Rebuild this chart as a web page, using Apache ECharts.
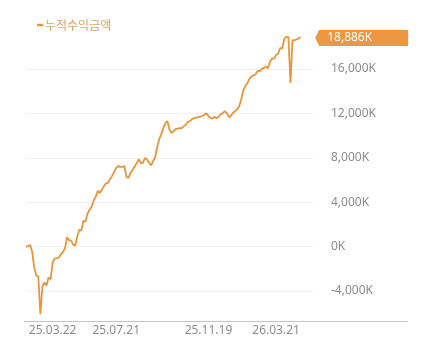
<!DOCTYPE html>
<html>
<head>
<meta charset="utf-8">
<script src="https://cdn.jsdelivr.net/npm/echarts@6/dist/echarts.min.js"></script>
<style>html,body{margin:0;padding:0;background:#fff;}#c{width:432px;height:356px;}</style>
</head>
<body>
<div id="c"></div>
<script>
const seriesName = '누적수익금액';
const tickLabels = ['25.03.22', '25.07.21', '25.11.19', '26.03.21'];
const tickIndex = [13, 44, 89, 122];
const yTicks = [-8000, 20000, 4000]; // min, max, interval (K)
const values = [
  -40, 45, 150, -450, -1880, -2600, -2690, -6100, -3590, -3230,
  -3500, -2780, -2960, -1435, -1080, -1030, -990, -720, -490, -180,
  850, 580, 540, 180, 90, 900, 1520, 1435, 2330, 2240,
  2960, 3320, 3590, 4130, 4480, 5020, 4840, 5110, 5430, 5700,
  5740, 6100, 6370, 6730, 7090, 7260, 7180, 7180, 7260, 6280,
  6190, 6640, 6910, 7220, 7530, 7850, 7530, 7530, 7980, 7850,
  7580, 7310, 7710, 8030, 8970, 9690, 10130, 10670, 11120, 11300,
  10540, 10220, 10400, 10580, 10630, 10670, 10670, 10850, 10990, 11260,
  11300, 11480, 11570, 11610, 11660, 11700, 11790, 11880, 12020, 11750,
  11570, 11520, 11700, 11570, 11700, 11930, 12020, 12200, 12020, 11660,
  11790, 12060, 12200, 12380, 12650, 13270, 14080, 14480, 14710, 15110,
  15340, 15430, 15520, 15830, 15790, 16010, 16100, 16230, 16050, 16640,
  16950, 16910, 17270, 17400, 17890, 17850, 18700, 18920, 18880, 14740,
  18610, 18570, 18680, 18740, 18886
];
const trailingSlots = 6;
const categories = [];
for (let i = 0; i < values.length + trailingSlots; i++) {
  const k = tickIndex.indexOf(i);
  categories.push(k >= 0 ? tickLabels[k] : 'p' + i);
}
const lastIdx = values.length - 1;
const lastVal = values[lastIdx];
const fmtK = v => Math.round(v).toLocaleString('en-US') + 'K';

const chart = echarts.init(document.getElementById('c'), null, {renderer: 'canvas'});
chart.setOption({
  animation: false,
  backgroundColor: '#fff',
  textStyle: {fontFamily: 'Noto Sans'},
  legend: {
    left: 32, top: 14,
    icon: 'rect', itemWidth: 6, itemHeight: 2.5,
    textStyle: {color: '#d9a55e', fontSize: 12, fontFamily: 'Noto Sans CJK KR', padding: [0, 0, 0, -3]},
    data: [seriesName]
  },
  grid: {left: 26, right: 119, top: 24.6, bottom: 20.6, containLabel: false},
  xAxis: {
    type: 'category',
    data: categories,
    boundaryGap: false,
    offset: -14,
    axisLine: {show: false},
    axisTick: {show: false},
    splitLine: {show: false},
    axisLabel: {
      margin: 3,
      color: '#8c8c8c', fontSize: 12, fontFamily: 'Noto Sans',
      interval: (i) => tickIndex.indexOf(i) >= 0,
      formatter: (v) => v
    }
  },
  yAxis: {
    type: 'value',
    position: 'right',
    min: yTicks[0], max: yTicks[1], interval: yTicks[2],
    axisLine: {show: false},
    axisTick: {show: false},
    splitLine: {show: true, showMinLine: false, showMaxLine: false, lineStyle: {color: '#f0f0f0', width: 1}},
    axisLabel: {
      showMinLabel: false, showMaxLabel: false,
      margin: 18, color: '#8c8c8c', fontSize: 12, fontFamily: 'Noto Sans',
      formatter: fmtK
    }
  },
  graphic: [{
    type: 'line', silent: true, z: 5,
    shape: {x1: 24, y1: 321.5, x2: 408, y2: 321.5},
    style: {stroke: '#c4c4c4', lineWidth: 1}
  }],
  series: [{
    name: seriesName,
    type: 'line',
    data: values,
    symbol: 'none',
    color: '#e8953c',
    lineStyle: {width: 1.8, color: '#e8953c'},
    markPoint: {
      silent: true,
      symbol: 'path://M0,8L4,0L93,0L93,16L4,16Z',
      symbolSize: [93, 16],
      symbolKeepAspect: false,
      symbolOffset: [61, 1],
      itemStyle: {color: '#ee9641'},
      label: {
        show: true, position: 'insideLeft', distance: 12,
        color: '#fff', fontSize: 12, fontFamily: 'Noto Sans',
        formatter: (p) => fmtK(p.value)
      },
      data: [{coord: [lastIdx, lastVal], value: lastVal}]
    }
  }]
});
</script>
</body>
</html>
